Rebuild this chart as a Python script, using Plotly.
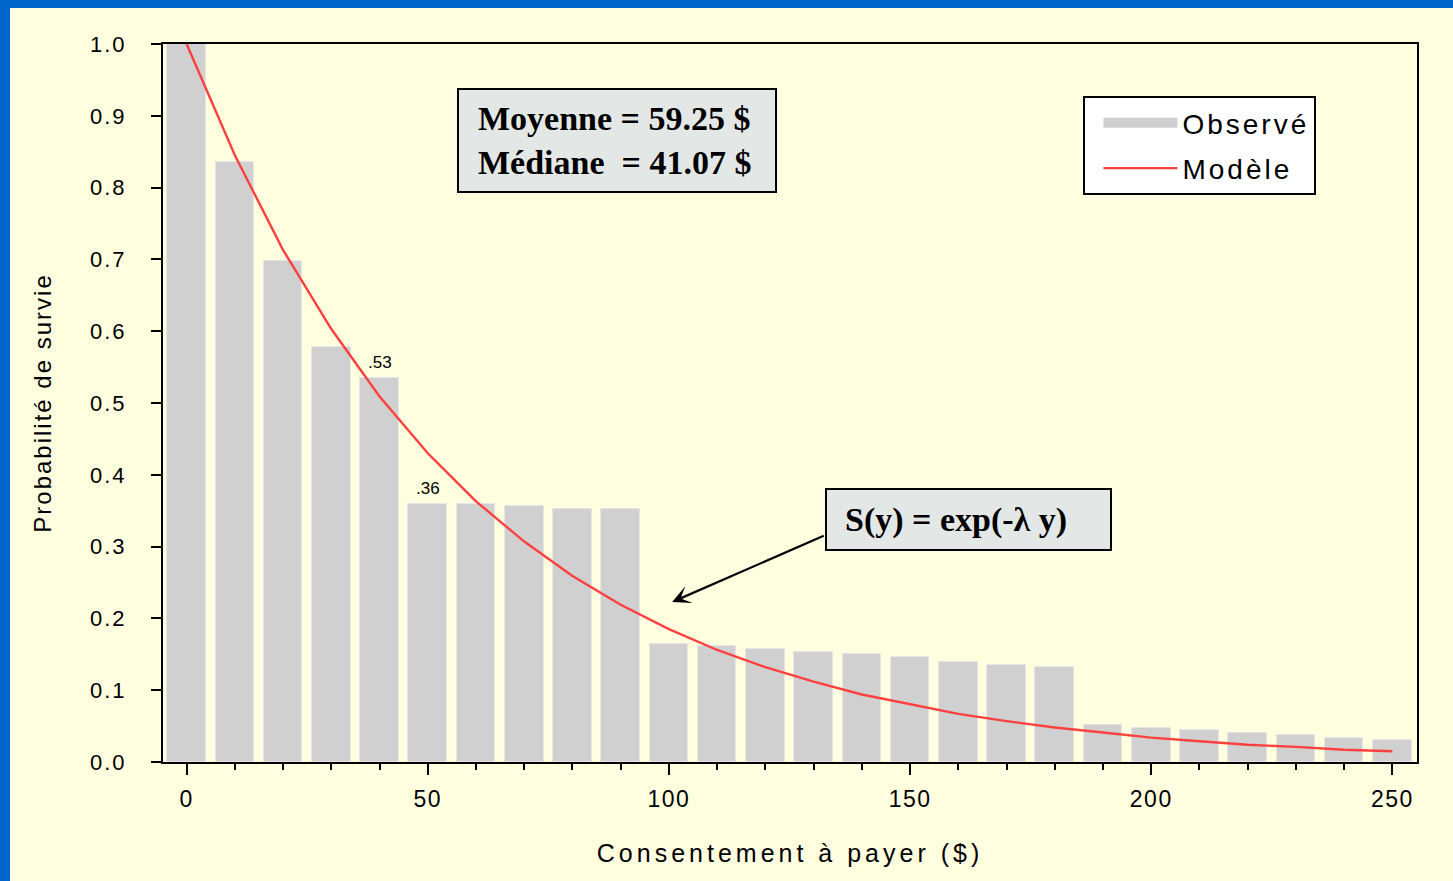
import plotly.graph_objects as go

# ---- data ----
wtp = [0, 10, 20, 30, 40, 50, 60, 70, 80, 90, 100, 110, 120, 130, 140, 150,
       160, 170, 180, 190, 200, 210, 220, 230, 240, 250]
observed = [1.0, 0.835, 0.698, 0.578, 0.535, 0.36, 0.36, 0.357, 0.353, 0.353,
            0.165, 0.162, 0.157, 0.153, 0.150, 0.146, 0.139, 0.135, 0.132,
            0.052, 0.048, 0.044, 0.041, 0.037, 0.034, 0.030]
model = [1.0, 0.845, 0.713, 0.603, 0.509, 0.430, 0.363, 0.307, 0.259, 0.219,
         0.185, 0.156, 0.132, 0.112, 0.094, 0.080, 0.067, 0.057, 0.048, 0.041,
         0.034, 0.029, 0.024, 0.021, 0.017, 0.015]
y_ticks = [0.0, 0.1, 0.2, 0.3, 0.4, 0.5, 0.6, 0.7, 0.8, 0.9, 1.0]
x_ticks = [0, 50, 100, 150, 200, 250]
labelled = [(40, 0.535, ".53"), (50, 0.36, ".36")]
stats_text = "Moyenne = 59.25 $<br>Médiane  = 41.07 $"
formula_text = "S(y) = exp(-λ y)"

BG = "#FFFFE0"
BLUE = "#0066CC"
BOX = "#E3E8E6"
BAR = "#D0D0D0"
RED = "#FF4040"
SANS = "Liberation Sans, Arial, sans-serif"
SERIF = "Liberation Serif, Times New Roman, serif"

fig = go.Figure()
fig.add_trace(go.Bar(x=wtp, y=observed, width=8, name="Observé", showlegend=False,
                     marker=dict(color=BAR, line=dict(color="#E6E6E6", width=1))))
# legend swatch for the bars (wide grey block like the original legend)
fig.add_trace(go.Scatter(x=[None], y=[None], mode="lines", name="Observé", legendgroup="a",
                         line=dict(color=BAR, width=10)))
fig.add_trace(go.Scatter(x=wtp, y=model, mode="lines", name="Modèle", legendgroup="b",
                         line=dict(color=RED, width=2.4)))

annotations = []
for xv, yv, txt in labelled:
    annotations.append(dict(x=xv, y=yv, text=txt, showarrow=False, xref="x", yref="y",
                            yanchor="bottom", yshift=4, font=dict(family=SANS, size=17, color="black")))
# stats box (frame) + text
annotations.append(dict(x=89.2, y=0.8656, xref="x", yref="y", text=" ", showarrow=False,
                        width=316, height=101, bgcolor=BOX, bordercolor="black",
                        borderwidth=2, borderpad=0, font=dict(size=10)))
annotations.append(dict(x=60.0, y=0.8656, xref="x", yref="y", text=stats_text, showarrow=False,
                        xanchor="left", align="left",
                        font=dict(family=SERIF, size=34, color="black", weight="bold")))
# formula box (frame) + text
annotations.append(dict(x=162.1, y=0.3377, xref="x", yref="y", text=" ", showarrow=False,
                        width=283, height=59, bgcolor=BOX, bordercolor="black",
                        borderwidth=2, borderpad=0, font=dict(size=10)))
annotations.append(dict(x=136.0, y=0.3377, xref="x", yref="y", text=formula_text, showarrow=False,
                        xanchor="left", align="left",
                        font=dict(family=SERIF, size=34, color="black", weight="bold")))
annotations.append(dict(x=100.65, y=0.2228, ax=132.4, ay=0.316, xref="x", yref="y",
                        axref="x", ayref="y", text="", showarrow=True, arrowhead=3,
                        arrowsize=1.4, arrowwidth=2.2, arrowcolor="black", standoff=0))

shapes = [
    dict(type="rect", xref="paper", yref="paper", x0=-0.131, x1=-0.122, y0=-0.17, y1=1.07,
         fillcolor=BLUE, line=dict(width=0), layer="above"),
    dict(type="rect", xref="paper", yref="paper", x0=-0.131, x1=1.03, y0=1.0501, y1=1.07,
         fillcolor=BLUE, line=dict(width=0), layer="above"),
]

fig.update_layout(
    width=1453, height=881,
    margin=dict(l=163, r=36, t=44, b=119),
    paper_bgcolor=BG, plot_bgcolor=BG,
    bargap=0,
    annotations=annotations, shapes=shapes,
    legend=dict(x=0.734, y=0.9276, xanchor="left", yanchor="top", bgcolor="white",
                bordercolor="black", borderwidth=2, itemwidth=74, indentation=13,
                font=dict(family=SANS, size=28, color="black"), tracegroupgap=6),
    font=dict(family=SANS, color="black"),
)
fig.update_xaxes(range=[-4.9, 255.1], tickvals=x_ticks, ticks="outside", ticklen=11, tickwidth=2,
                 tickcolor="black", showline=True, linecolor="black", linewidth=2, mirror=True,
                 showgrid=False, zeroline=False, ticklabelstandoff=4,
                 tickfont=dict(family=SANS, size=23),
                 minor=dict(dtick=10, tick0=0, ticks="outside", ticklen=6, tickwidth=2, tickcolor="black"),
                 title=dict(text="Consentement à payer ($)", font=dict(family=SANS, size=25), standoff=34))
fig.update_yaxes(range=[0, 1], tickvals=y_ticks, tickformat=".1f", ticks="outside", ticklen=10,
                 tickwidth=2, tickcolor="black", showline=True, linecolor="black", linewidth=2,
                 mirror=True, showgrid=False, zeroline=False, ticklabelstandoff=20,
                 tickfont=dict(family=SANS, size=22),
                 title=dict(text="Probabilité de survie", font=dict(family=SANS, size=24), standoff=38))

# remove page margin and add letter spacing (as in the original typography)
post = """
document.body.style.margin = '0';
var st = document.createElement('style');
st.textContent = '.xtitle{letter-spacing:4px} .ytitle{letter-spacing:2px} ' +
                 '.xtick text{letter-spacing:1.5px} .ytick text{letter-spacing:2px} ' +
                 '.legendtext{letter-spacing:3px}';
document.head.appendChild(st);
var gd = document.getElementById('{plot_id}');
Plotly.relayout(gd, {'legend.font.size': 28.01});
"""

fig.write_html("out.html", post_script=post, config={"displayModeBar": False})
